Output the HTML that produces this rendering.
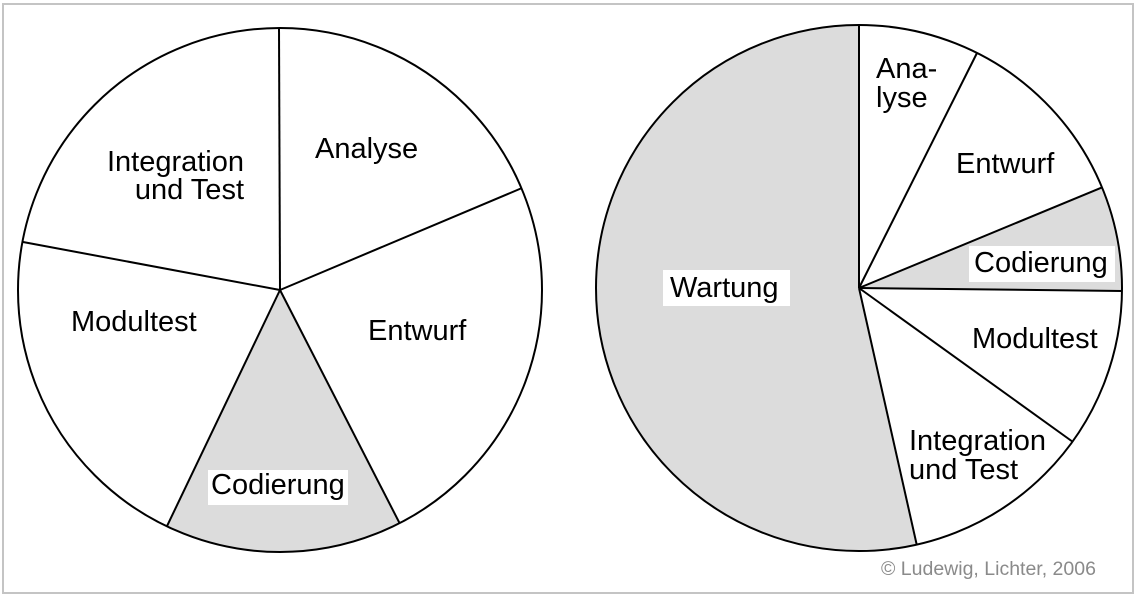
<!DOCTYPE html>
<html><head><meta charset="utf-8"><style>
html,body{margin:0;padding:0;background:#fff;}
svg{display:block;}
text{font-family:"Liberation Sans",Arial,sans-serif;font-size:29px;fill:#000;}
</style></head><body>
<svg width="1137" height="597" viewBox="0 0 1137 597" xmlns="http://www.w3.org/2000/svg">
<rect x="3" y="4" width="1130" height="589" fill="#fff" stroke="#c4c4c4" stroke-width="2"/>
<!-- Left pie -->
<circle cx="280" cy="290" r="262" fill="#fff"/>
<path d="M280 290 L399.6 523.2 A262 262 0 0 1 166.9 526.3 Z" fill="#dcdcdc"/>
<g stroke="#000" stroke-width="2">
<line x1="280" y1="290" x2="279" y2="28"/>
<line x1="280" y1="290" x2="522" y2="188"/>
<line x1="280" y1="290" x2="23" y2="242"/>
<line x1="280" y1="290" x2="399.6" y2="523.2"/>
<line x1="280" y1="290" x2="166.9" y2="526.3"/>
</g>
<circle cx="280" cy="290" r="262" fill="none" stroke="#000" stroke-width="2"/>
<text x="315" y="158">Analyse</text>
<text x="244" y="171" text-anchor="end">Integration</text>
<text x="244" y="199" text-anchor="end">und Test</text>
<text x="71" y="331">Modultest</text>
<text x="368" y="340">Entwurf</text>
<rect x="208" y="470" width="140" height="35" fill="#fff"/>
<text x="211" y="494">Codierung</text>
<!-- Right pie -->
<circle cx="859" cy="288" r="263" fill="#fff"/>
<path d="M859 288 L916.7 544.6 A263 263 0 1 1 859 25 Z" fill="#dcdcdc"/>
<path d="M859 288 L1102 187.4 A263 263 0 0 1 1122 291 Z" fill="#dcdcdc"/>
<g stroke="#000" stroke-width="2">
<line x1="859" y1="288" x2="859" y2="25"/>
<line x1="859" y1="288" x2="977" y2="53"/>
<line x1="859" y1="288" x2="1102" y2="187.4"/>
<line x1="859" y1="288" x2="1122" y2="291"/>
<line x1="859" y1="288" x2="1073" y2="442"/>
<line x1="859" y1="288" x2="916.7" y2="544.6"/>
</g>
<circle cx="859" cy="288" r="263" fill="none" stroke="#000" stroke-width="2"/>
<text x="876" y="78">Ana-</text>
<text x="876" y="107">lyse</text>
<text x="956" y="173">Entwurf</text>
<rect x="969" y="246" width="146" height="36" fill="#fff"/>
<text x="974" y="272">Codierung</text>
<rect x="663" y="270" width="127" height="36" fill="#fff"/>
<text x="670" y="297">Wartung</text>
<text x="972" y="348">Modultest</text>
<text x="909" y="450">Integration</text>
<text x="909" y="479">und Test</text>
<text x="881" y="575" style="font-size:19.5px;fill:#8a8a8a">© Ludewig, Lichter, 2006</text>
</svg>
</body></html>
